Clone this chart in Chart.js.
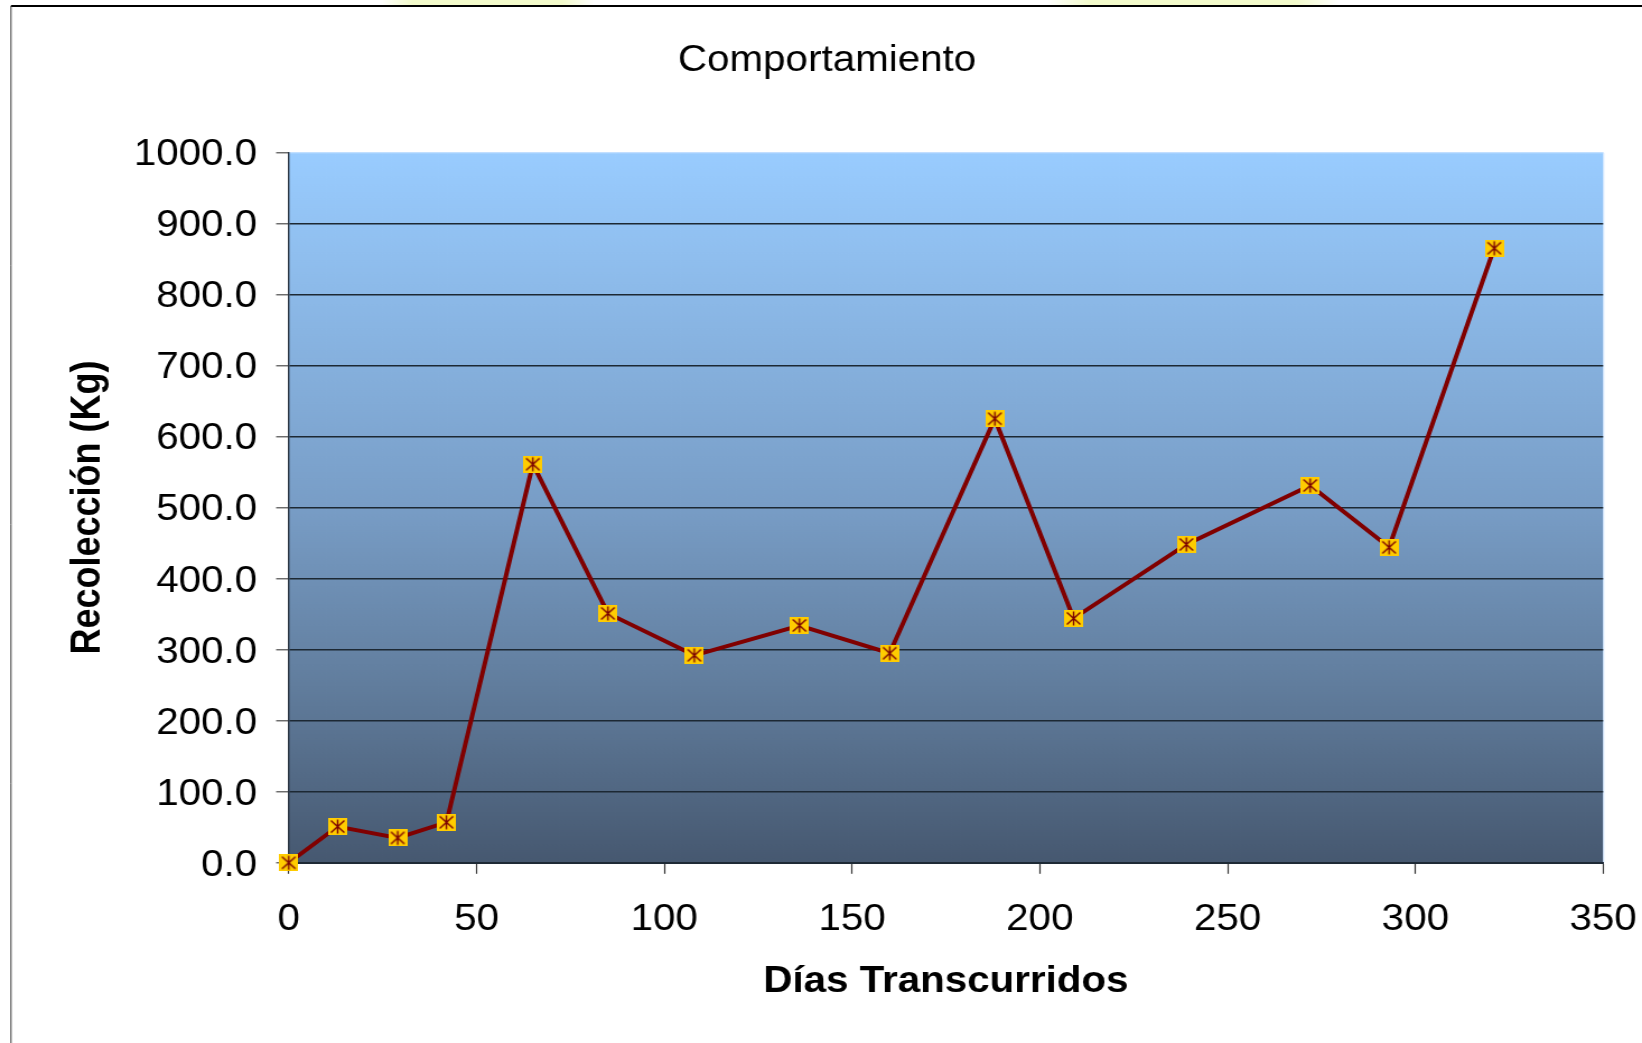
<!DOCTYPE html>
<html><head><meta charset="utf-8">
<script src="https://cdn.jsdelivr.net/npm/chart.js@4.4.1/dist/chart.umd.min.js"></script>
<style>
html,body{margin:0;padding:0;background:#fff;overflow:hidden;width:1642px;height:1043px;}
#wrap{position:absolute;left:0;top:0;width:1466px;height:1043px;transform-origin:0 0;transform:scaleX(1.12005);}
</style></head><body>
<div id="wrap"><canvas id="c"></canvas></div>
<script>
const titulo = 'Comportamiento';
const tituloX = 'Días Transcurridos';
const tituloY = 'Recolección (Kg)';
const dias = [0, 13, 29, 42, 65, 85, 108, 136, 160, 188, 209, 239, 272, 293, 321];
const recoleccion = [0, 51, 35, 57, 561, 351, 292, 334, 295, 625, 344, 448, 531, 444, 865];

const FONT = "'Liberation Sans', Arial, sans-serif";

// marker: gold square with dark red asterisk
const marker = document.createElement('canvas');
marker.width = 17; marker.height = 17;
(function(){
  const m = marker.getContext('2d');
  m.fillStyle = '#FFCC00';
  m.fillRect(0, 0, 17, 17);
  m.strokeStyle = '#7A0000';
  m.lineWidth = 1.4;
  m.beginPath();
  m.moveTo(2.5, 2.5); m.lineTo(14.5, 14.5);
  m.moveTo(14.5, 2.5); m.lineTo(2.5, 14.5);
  m.moveTo(8.5, 1.5); m.lineTo(8.5, 15.5);
  m.stroke();
})();

const decor = {
  id: 'decor',
  beforeDraw(chart) {
    const ctx = chart.ctx;
    const W = chart.width, H = chart.height;
    ctx.save();
    ctx.fillStyle = '#ffffff';
    ctx.fillRect(0, 0, W, H);
    // faint yellow glows above frame
    [[340, 530], [935, 1195]].forEach(([a, b]) => {
      const g = ctx.createLinearGradient(a, 0, b, 0);
      g.addColorStop(0, 'rgba(240,250,190,0)');
      g.addColorStop(0.15, 'rgba(240,250,190,0.8)');
      g.addColorStop(0.85, 'rgba(240,250,190,0.8)');
      g.addColorStop(1, 'rgba(240,250,190,0)');
      ctx.fillStyle = g;
      ctx.fillRect(a, 0, b - a, 5);
    });
    // plot background gradient
    const ca = chart.chartArea;
    const gr = ctx.createLinearGradient(0, ca.top, 0, ca.bottom);
    gr.addColorStop(0, '#99CCFF');
    gr.addColorStop(0.5, '#789DC6');
    gr.addColorStop(0.75, '#617D9D');
    gr.addColorStop(1, '#465870');
    ctx.fillStyle = gr;
    ctx.fillRect(ca.left, ca.top, ca.right - ca.left, ca.bottom - ca.top);
    ctx.strokeStyle = 'rgba(200,225,255,0.9)';
    ctx.lineWidth = 1;
    ctx.beginPath();
    ctx.moveTo(ca.left, ca.top + 0.5); ctx.lineTo(ca.right + 0.5, ca.top + 0.5);
    ctx.lineTo(ca.right + 0.5, ca.bottom);
    ctx.stroke();
    // outer frame
    ctx.strokeStyle = '#000';
    ctx.lineWidth = 2;
    ctx.beginPath();
    ctx.moveTo(9.8, 6); ctx.lineTo(W, 6);
    ctx.stroke();
    ctx.strokeStyle = '#333';
    ctx.lineWidth = 1;
    ctx.beginPath();
    ctx.moveTo(9.8, 6); ctx.lineTo(9.8, H);
    ctx.stroke();
    ctx.restore();
  }
};

new Chart(document.getElementById('c'), {
  type: 'line',
  data: {
    datasets: [{
      data: dias.map((d, i) => ({ x: d, y: recoleccion[i] })),
      borderColor: '#800000',
      borderWidth: 4,
      tension: 0,
      fill: false,
      pointStyle: marker,
      pointRadius: 8,
      pointHoverRadius: 8,
      clip: false
    }]
  },
  options: {
    responsive: true,
    maintainAspectRatio: false,
    animation: false,
    events: [],
    layout: { padding: { left: 45.5, right: 34.7, top: 10, bottom: 20.2 } },
    plugins: {
      legend: { display: false },
      tooltip: { enabled: false },
      title: {
        display: true,
        text: titulo,
        color: '#000',
        font: { family: FONT, size: 36, weight: 'normal' },
        padding: { top: 29, bottom: 70.1 }
      }
    },
    scales: {
      x: {
        type: 'linear',
        min: 0, max: 350,
        afterFit(s) { s.height = 160; s.paddingLeft = 0; s.paddingRight = 0; },
        ticks: {
          stepSize: 50,
          color: '#000',
          padding: 24.4,
          maxRotation: 0,
          font: { family: FONT, size: 36 }
        },
        grid: {
          drawOnChartArea: false,
          drawTicks: true,
          tickLength: 11,
          tickColor: '#333',
          tickWidth: 1.2
        },
        border: { display: true, color: '#1E2A36', width: 2 },
        title: {
          display: true,
          text: tituloX,
          color: '#000',
          font: { family: FONT, size: 36, weight: 'bold' },
          padding: { top: 0, bottom: 19.2 }
        }
      },
      y: {
        min: 0, max: 1000,
        afterFit(s) { s.width = 212.3; },
        ticks: {
          stepSize: 100,
          color: '#000',
          padding: 16.9,
          labelOffset: 3,
          font: { family: FONT, size: 36 },
          callback: v => Number(v).toFixed(1)
        },
        grid: {
          drawOnChartArea: true,
          drawTicks: true,
          tickLength: 11.3,
          color: ctx => (ctx.tick && ctx.tick.value === 1000) ? 'rgba(0,0,0,0)' : '#1C2833',
          lineWidth: 1.5,
          tickColor: '#666',
          tickWidth: 1.4
        },
        border: { display: true, color: '#2A3440', width: 1.4 },
        title: {
          display: true,
          text: tituloY,
          color: '#000',
          font: { family: FONT, size: 36, weight: 'bold' },
          padding: { top: 11.6, bottom: 0 }
        }
      }
    }
  },
  plugins: [decor]
});
</script>
</body></html>
